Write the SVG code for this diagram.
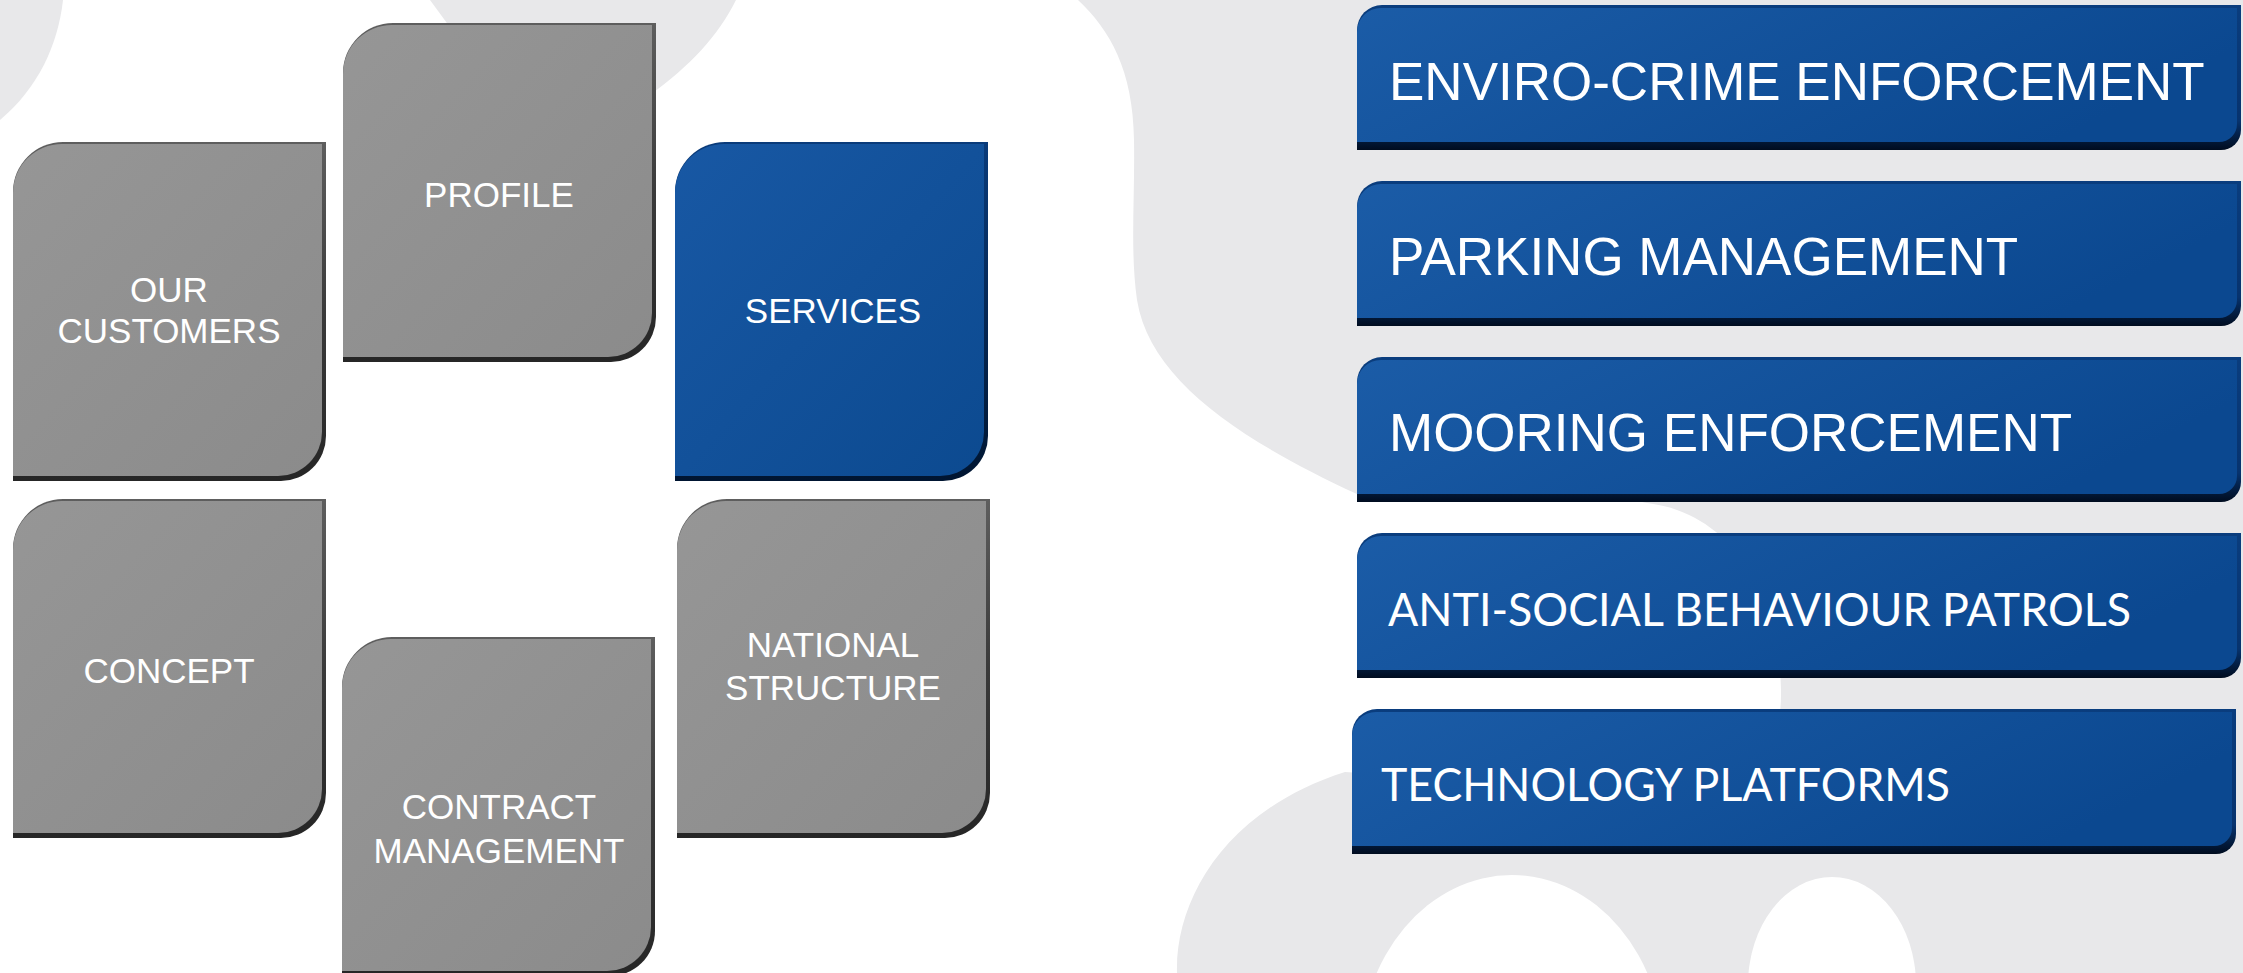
<svg xmlns="http://www.w3.org/2000/svg" width="2243" height="973" viewBox="0 0 2243 973">
<style>
.bg{fill:#e8e8ea}
.hole{fill:#ffffff}
.t{font-family:"Liberation Sans",Arial,sans-serif;font-size:35px;fill:#ffffff;text-anchor:middle}
.b{font-family:"Liberation Sans",Arial,sans-serif;font-size:53px;fill:#ffffff}
.c{font-family:Lato,"Open Sans",sans-serif;font-size:46px;fill:#ffffff}
.gbase{fill:url(#gGrayEdge)}
.gface{fill:url(#gGray)}
.bbase{fill:url(#gBlueEdge)}
.bface{fill:url(#gBlue)}
.barbase{fill:url(#gBarEdge)}
.barface{fill:url(#gBar)}
</style>
<defs>
<linearGradient id="gGray" x1="0" y1="0" x2="1" y2="1"><stop offset="0" stop-color="#969696"/><stop offset="1" stop-color="#8b8b8b"/></linearGradient>
<linearGradient id="gGrayEdge" x1="0" y1="0" x2="0" y2="1"><stop offset="0" stop-color="#5e5e5e"/><stop offset="0.5" stop-color="#3a3a3a"/><stop offset="1" stop-color="#262626"/></linearGradient>
<linearGradient id="gBlue" x1="0" y1="0" x2="1" y2="1"><stop offset="0" stop-color="#1858a4"/><stop offset="1" stop-color="#0c4a90"/></linearGradient>
<linearGradient id="gBlueEdge" x1="0" y1="0" x2="0" y2="1"><stop offset="0" stop-color="#0a3b7a"/><stop offset="1" stop-color="#001531"/></linearGradient>
<linearGradient id="gBar" x1="0" y1="0" x2="1" y2="0.3"><stop offset="0" stop-color="#1b5ca7"/><stop offset="1" stop-color="#0b4890"/></linearGradient>
<linearGradient id="gBarEdge" x1="0" y1="0" x2="0" y2="1"><stop offset="0" stop-color="#0a3d7e"/><stop offset="0.8" stop-color="#07336e"/><stop offset="1" stop-color="#000c1f"/></linearGradient>
<path id="tileBase" d="M0,50 A50,50 0 0 1 50,0 L313,0 L313,294 A45,45 0 0 1 268,339 L0,339 Z"/>
<path id="tileFace" d="M0,51 A49,49 0 0 1 49,2 L309,2 L309,290 A44,44 0 0 1 265,334 L0,334 Z"/>
<path id="barBase" d="M0,25 A25,25 0 0 1 25,0 L884,0 L884,125 A20,20 0 0 1 864,145 L0,145 Z"/>
<path id="barFace" d="M0,27 A24,24 0 0 1 24,3 L880,3 L880,119 A18,18 0 0 1 862,137 L0,137 Z"/>
</defs>

<g id="background">
<rect x="0" y="0" width="2243" height="973" fill="#ffffff"/>
<path class="bg" d="M0,0 L63,0 C58,45 38,88 0,120 Z"/>
<path class="bg" d="M430,0 L736,0 C718,36 690,66 650,95 L650,200 L460,200 L452,30 Z"/>
<path class="bg" d="M1078,0 L2243,0 L2243,973 L1177,973 C1175,900 1225,810 1345,772 L1700,795 C1760,785 1782,745 1781,690 C1780,620 1752,562 1716,532 C1695,515 1672,506 1647,503 C1560,485 1430,490 1357,494 C1240,440 1150,380 1137,300 C1130,250 1135,200 1134,140 C1133,70 1110,30 1078,0 Z"/>
<ellipse class="hole" cx="1512" cy="1055" rx="152" ry="180"/>
<ellipse class="hole" cx="1832" cy="985" rx="84" ry="108"/>
</g>

<g id="connectors"></g>

<g id="node-our-customers">
<use href="#tileBase" class="gbase" x="13" y="142"/>
<use href="#tileFace" class="gface" x="13" y="142"/>
<text class="t" x="169" y="302">OUR</text>
<text class="t" x="169" y="343">CUSTOMERS</text>
</g>
<g id="node-profile">
<use href="#tileBase" class="gbase" x="343" y="23"/>
<use href="#tileFace" class="gface" x="343" y="23"/>
<text class="t" x="499" y="207">PROFILE</text>
</g>
<g id="node-services">
<use href="#tileBase" class="bbase" x="675" y="142"/>
<use href="#tileFace" class="bface" x="675" y="142"/>
<text class="t" x="833" y="323">SERVICES</text>
</g>
<g id="node-concept">
<use href="#tileBase" class="gbase" x="13" y="499"/>
<use href="#tileFace" class="gface" x="13" y="499"/>
<text class="t" x="169" y="683">CONCEPT</text>
</g>
<g id="node-contract-management">
<use href="#tileBase" class="gbase" x="342" y="637"/>
<use href="#tileFace" class="gface" x="342" y="637"/>
<text class="t" x="499" y="819">CONTRACT</text>
<text class="t" x="499" y="863">MANAGEMENT</text>
</g>
<g id="node-national-structure">
<use href="#tileBase" class="gbase" x="677" y="499"/>
<use href="#tileFace" class="gface" x="677" y="499"/>
<text class="t" x="833" y="657">NATIONAL</text>
<text class="t" x="833" y="700">STRUCTURE</text>
</g>

<g id="node-enviro-crime">
<use href="#barBase" class="barbase" x="1357" y="5"/>
<use href="#barFace" class="barface" x="1357" y="5"/>
<text class="b" x="1389" y="100">ENVIRO-CRIME ENFORCEMENT</text>
</g>
<g id="node-parking">
<use href="#barBase" class="barbase" x="1357" y="181"/>
<use href="#barFace" class="barface" x="1357" y="181"/>
<text class="b" x="1389" y="275">PARKING MANAGEMENT</text>
</g>
<g id="node-mooring">
<use href="#barBase" class="barbase" x="1357" y="357"/>
<use href="#barFace" class="barface" x="1357" y="357"/>
<text class="b" x="1389" y="451">MOORING ENFORCEMENT</text>
</g>
<g id="node-anti-social">
<use href="#barBase" class="barbase" x="1357" y="533"/>
<use href="#barFace" class="barface" x="1357" y="533"/>
<text class="c" x="1388" y="626" textLength="743" lengthAdjust="spacingAndGlyphs">ANTI-SOCIAL BEHAVIOUR PATROLS</text>
</g>
<g id="node-technology">
<use href="#barBase" class="barbase" x="1352" y="709"/>
<use href="#barFace" class="barface" x="1352" y="709"/>
<text class="c" x="1381" y="801" textLength="569" lengthAdjust="spacingAndGlyphs">TECHNOLOGY PLATFORMS</text>
</g>
</svg>
